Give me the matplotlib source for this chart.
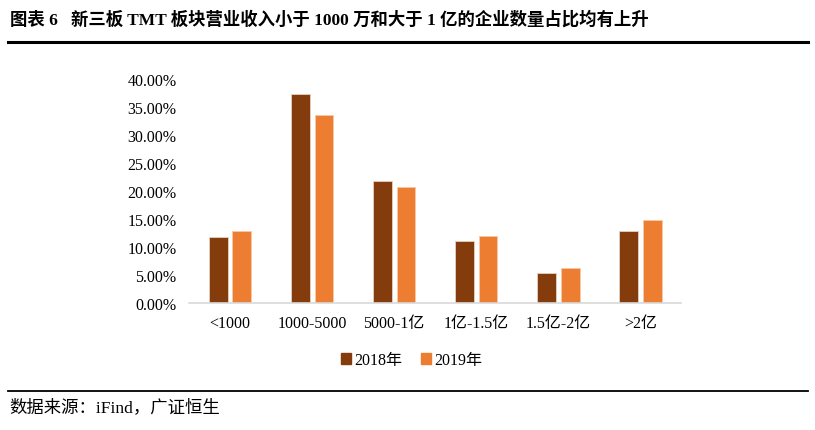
import matplotlib
matplotlib.use("Agg")
import matplotlib.pyplot as plt
import numpy as np
from matplotlib.lines import Line2D
from matplotlib.patches import Patch

plt.rcParams['font.family'] = ['Liberation Serif', 'Noto Sans CJK SC', 'DejaVu Sans']

# data
categories = ['<1000', '1000-5000', '5000-1亿', '1亿-1.5亿', '1.5亿-2亿', '>2亿']
share_2018 = [11.7, 37.4, 21.7, 11.1, 5.4, 12.9]
share_2019 = [12.8, 33.5, 20.8, 12.0, 6.2, 14.9]
series_names = ['2018年', '2019年']
yticks = [0, 5, 10, 15, 20, 25, 30, 35, 40]

COLOR_2018 = '#843C0C'
COLOR_2019 = '#ED7D31'

fig = plt.figure(figsize=(8.15, 4.31), dpi=100)
ax = fig.add_axes([0.232, 0.2947, 0.604, 0.5197])

x = np.arange(len(categories))
w = 0.23
ax.bar(x - 0.144, share_2018, w, color=COLOR_2018, edgecolor='#e8d0c0', linewidth=0.6)
ax.bar(x + 0.144, share_2019, w, color=COLOR_2019, edgecolor='#f8c8a8', linewidth=0.6)

ax.set_xlim(-0.5, len(categories) - 0.5)
ax.set_ylim(0, 40)
ax.set_yticks(yticks)
ax.set_yticklabels(['%.2f%%' % v for v in yticks], fontsize=11.5)
ax.set_xticks(x)
ax.set_xticklabels(categories, fontsize=11.5)
ax.tick_params(length=0)
ax.tick_params(axis='y', pad=9)
ax.tick_params(axis='x', pad=9)
for s in ['top', 'right', 'left']:
    ax.spines[s].set_visible(False)
ax.spines['bottom'].set_color('#d9d9d9')
ax.spines['bottom'].set_linewidth(1.2)

handles = [Patch(color=COLOR_2018), Patch(color=COLOR_2019)]
fig.legend(handles, series_names, loc='center', bbox_to_anchor=(0.505, 0.162),
           ncol=2, frameon=False, fontsize=11.5, handlelength=0.6, handleheight=0.6,
           handletextpad=0.2, columnspacing=1.2)

# title, rules, source
fig.text(0.012, 0.953, '图表 6   新三板 TMT 板块营业收入小于 1000 万和大于 1 亿的企业数量占比均有上升',
         fontsize=12.5, fontweight='bold', va='center', ha='left')
fig.add_artist(Line2D([0.01, 0.992], [0.9, 0.9], color='black', linewidth=2.2))
fig.add_artist(Line2D([0.01, 0.992], [0.09, 0.09], color='black', linewidth=1.3))
fig.text(0.012, 0.053, '数据来源：iFind，广证恒生', fontsize=12.5, va='center', ha='left')

fig.savefig('out.png', dpi=100)
